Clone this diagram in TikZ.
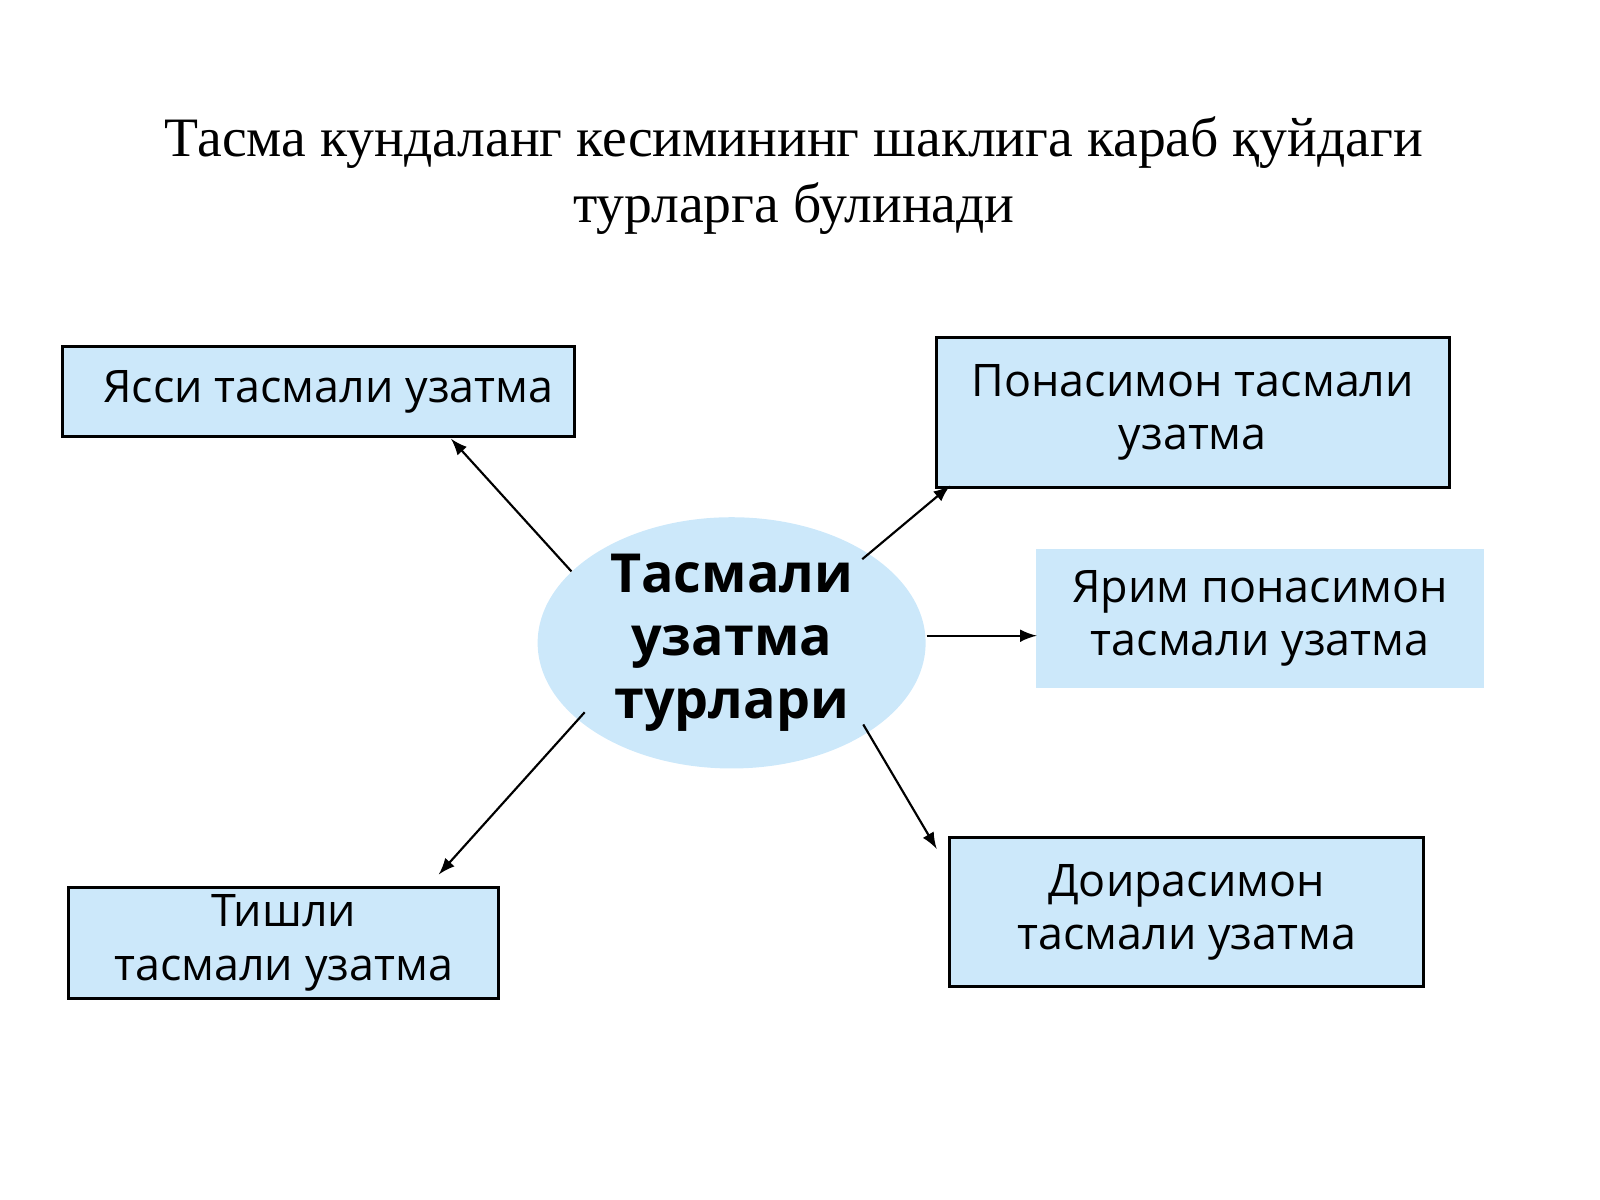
\documentclass[tikz,border=0pt]{standalone}
\usepackage{fontspec}
\setmainfont{Liberation Serif}
\newfontfamily\boxfont{Open Sans}
\usetikzlibrary{calc,shapes,arrows,positioning}
\definecolor{boxblue}{HTML}{CCE8FA}
\tikzstyle{kind}=[draw, fill=boxblue, line width=0.8pt, align=center, font=\boxfont\fontsize{12.5}{14.8}\selectfont, inner sep=0]
\tikzstyle{hub}=[ellipse, fill=boxblue, minimum width=3.8cm, minimum height=2.1cm, align=center, font=\boxfont\bfseries\fontsize{15}{17.6}\selectfont, inner sep=0]
\tikzstyle{arrow}=[->, >=latex, line width=0.6pt]

\begin{document}
\begin{tikzpicture}[x=0.01cm, y=-0.01cm]
  \useasboundingbox (0,0) rectangle (1568,1176);
  \node[align=center, font=\fontsize{15.5}{18.5}\selectfont] (title) at (778,172)
    {Тасма кундаланг кесимининг шаклига караб қуйдаги\\турларга булинади};

  \node[hub] (C) at (717,630) {Тасмали\\узатма\\турлари};

  \node[kind, minimum width=5.01cm, minimum height=0.88cm] (Ysi) at (312,384) {\hspace*{0.2cm}Ясси тасмали узатма};
  \node[kind, minimum width=5.02cm, minimum height=1.47cm] (Pon) at (1169,404) {Понасимон тасмали\\узатма};
  \node[kind, draw=none, minimum width=4.39cm, minimum height=1.36cm] (Yar) at (1235,606) {Ярим понасимон\\тасмали узатма};
  \node[kind, minimum width=4.64cm, minimum height=1.46cm] (Doi) at (1163,894) {Доирасимон\\тасмали узатма};
  \node[kind, minimum width=4.21cm, minimum height=1.09cm] (Tis) at (278,924) {Тишли\\тасмали узатма};

  \coordinate (s1) at (560,560);  \coordinate (e1) at (442,430);
  \coordinate (s2) at (845,548);  \coordinate (e2) at (931,476);
  \coordinate (s3) at (908,623);  \coordinate (e3) at (1016,623);
  \coordinate (s4) at (846,710);  \coordinate (e4) at (918,832);
  \coordinate (s5) at (573,698);  \coordinate (e5) at (430,857);

  \draw[arrow] (s1) -- (e1);
  \draw[arrow] (s2) -- (e2);
  \draw[arrow] (s3) -- (e3);
  \draw[arrow] (s4) -- (e4);
  \draw[arrow] (s5) -- (e5);
\end{tikzpicture}
\end{document}
